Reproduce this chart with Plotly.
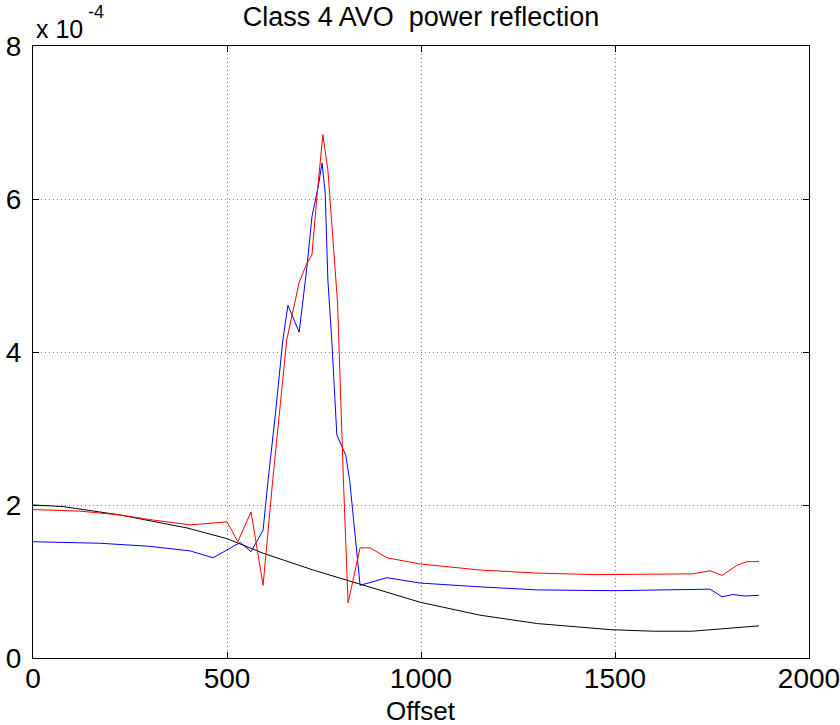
import plotly.graph_objects as go

# Values in units of 1e-4
red_x = [0, 120, 224, 300, 405, 500, 528, 562, 593, 618, 654, 686, 706, 719, 731, 747, 760, 785, 800, 812,
         843, 869, 912, 997, 1152, 1300, 1450, 1600, 1700, 1745, 1776, 1814, 1840, 1871]
red_y = [1.94, 1.92, 1.87, 1.81, 1.74, 1.78, 1.52, 1.91, 0.95, 2.33, 4.16, 4.91, 5.16, 5.27, 5.99, 6.84, 6.38, 4.64, 2.33, 0.72,
         1.44, 1.44, 1.31, 1.23, 1.15, 1.11, 1.09, 1.10, 1.10, 1.14, 1.08, 1.21, 1.26, 1.26]

blue_x = [0, 173, 300, 405, 464, 534, 562, 593, 606, 625, 644, 657, 686, 706, 719, 735, 745, 753, 760, 770,
          783, 806, 816, 843, 912, 997, 1152, 1300, 1500, 1698, 1745, 1776, 1804, 1835, 1871]
blue_y = [1.52, 1.50, 1.46, 1.40, 1.31, 1.51, 1.39, 1.67, 2.33, 3.2, 4.16, 4.61, 4.26, 5.11, 5.77, 6.16, 6.47, 6.09, 4.94, 4.16,
          2.92, 2.65, 2.33, 0.95, 1.05, 0.98, 0.93, 0.89, 0.88, 0.90, 0.90, 0.80, 0.83, 0.81, 0.82]

black_x = [0, 77, 224, 397, 500, 593, 722, 825, 997, 1152, 1300, 1490, 1600, 1698, 1871]
black_y = [2.0, 1.98, 1.87, 1.70, 1.56, 1.37, 1.15, 0.99, 0.73, 0.56, 0.45, 0.37, 0.35, 0.35, 0.42]

x_ticks = [0, 500, 1000, 1500, 2000]
y_ticks = [0, 2, 4, 6, 8]

FONT = "Liberation Sans, Arial, sans-serif"

fig = go.Figure()
fig.add_trace(go.Scatter(x=black_x, y=black_y, mode="lines", line=dict(color="black", width=1), showlegend=False))
fig.add_trace(go.Scatter(x=blue_x, y=blue_y, mode="lines", line=dict(color="#0000ff", width=1), showlegend=False))
fig.add_trace(go.Scatter(x=red_x, y=red_y, mode="lines", line=dict(color="#ff0000", width=1), showlegend=False))

axis_common = dict(
    showline=True, linecolor="black", linewidth=1, mirror="ticks",
    ticks="inside", ticklen=6, tickcolor="black", tickwidth=1,
    showgrid=True, gridcolor="#777777", griddash="1px,3px", gridwidth=1,
    zeroline=False, automargin=False, ticklabeloverflow="allow",
    tickfont=dict(family=FONT, size=28, color="black"),
)

fig.update_xaxes(range=[0, 2000], tickvals=x_ticks, ticktext=[str(v) for v in x_ticks],
                 ticklabelstandoff=-5, **axis_common)
fig.update_yaxes(range=[0, 8], tickvals=y_ticks, ticktext=[str(v) for v in y_ticks],
                 ticklabelstandoff=5, **axis_common)

fig.update_layout(
    width=840, height=725,
    margin=dict(l=33, r=31, t=46, b=67),
    paper_bgcolor="white", plot_bgcolor="white",
    title=dict(text="Class 4 AVO \u00a0power reflection", x=0.5, xref="paper", xanchor="center",
               y=1 - 17 / 725, yref="container", yanchor="middle",
               font=dict(family=FONT, size=27, color="black")),
    annotations=[
        dict(text="Offset", xref="paper", yref="paper", x=0.5, y=0, xanchor="center", yanchor="middle",
             yshift=-53, showarrow=False, font=dict(family=FONT, size=26, color="black")),
        dict(text="x 10", xref="paper", yref="paper", x=0, y=1, xanchor="left", yanchor="bottom",
             xshift=1, yshift=1, showarrow=False, font=dict(family=FONT, size=25, color="black")),
        dict(text="-4", xref="paper", yref="paper", x=0, y=1, xanchor="left", yanchor="bottom",
             xshift=53, yshift=22, showarrow=False, font=dict(family=FONT, size=18, color="black")),
    ],
)

fig.write_html("out.html")
